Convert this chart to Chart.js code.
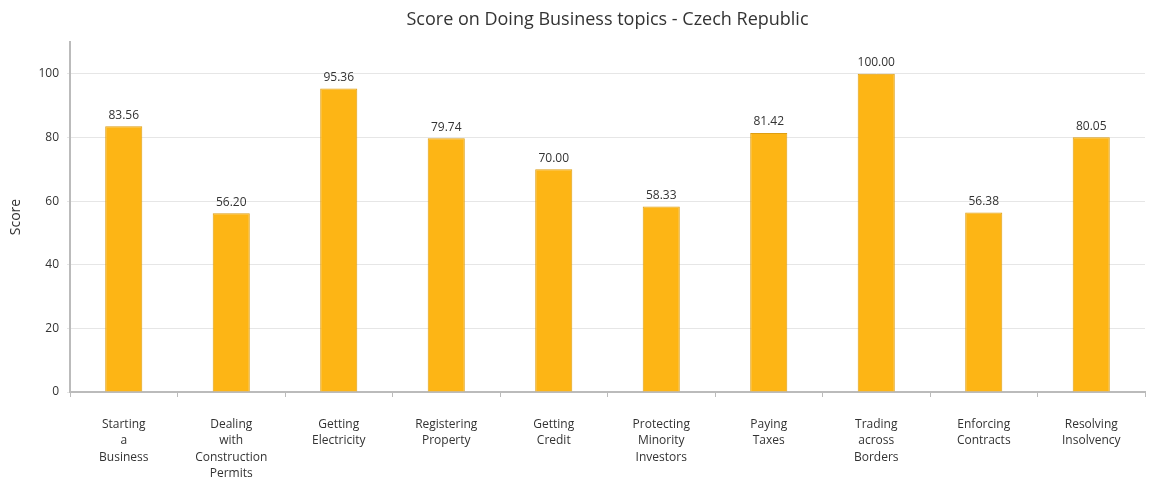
<!DOCTYPE html>
<html>
<head>
<meta charset="utf-8">
<script src="https://cdn.jsdelivr.net/npm/chart.js@4/dist/chart.umd.min.js"></script>
<style>
html,body{margin:0;padding:0;background:#fff;}
#wrap{width:1149px;height:479px;position:relative;}
</style>
</head>
<body>
<div id="wrap"><canvas id="c"></canvas></div>
<script>
const categories = [
  ["Starting","a","Business"],
  ["Dealing","with","Construction","Permits"],
  ["Getting","Electricity"],
  ["Registering","Property"],
  ["Getting","Credit"],
  ["Protecting","Minority","Investors"],
  ["Paying","Taxes"],
  ["Trading","across","Borders"],
  ["Enforcing","Contracts"],
  ["Resolving","Insolvency"]
];
const scores = [83.56, 56.20, 95.36, 79.74, 70.00, 58.33, 81.42, 100.00, 56.38, 80.05];
const yTicks = [0, 20, 40, 60, 80, 100];
const titleText = "Score on Doing Business topics - Czech Republic";
const yTitle = "Score";

const FONT = "'Open Sans', 'Noto Sans', sans-serif";

const titlePlugin = {
  id: 'centerTitle',
  afterDraw(chart) {
    const ctx = chart.ctx, a = chart.chartArea;
    ctx.save();
    ctx.font = "18px " + FONT;
    ctx.fillStyle = "#333";
    ctx.textAlign = "center";
    ctx.textBaseline = "middle";
    ctx.fillText(titleText, (a.left + a.right) / 2, 20);
    ctx.restore();
  }
};

const valueLabels = {
  id: 'valueLabels',
  afterDatasetsDraw(chart) {
    const ctx = chart.ctx;
    const meta = chart.getDatasetMeta(0);
    ctx.save();
    ctx.font = "12px " + FONT;
    ctx.fillStyle = "#333";
    ctx.textAlign = "center";
    ctx.textBaseline = "bottom";
    meta.data.forEach((bar, i) => {
      ctx.fillText(scores[i].toFixed(2), bar.x, bar.y - 5);
    });
    ctx.restore();
  }
};

new Chart(document.getElementById('c'), {
  type: 'bar',
  data: {
    labels: categories,
    datasets: [{
      data: scores,
      backgroundColor: '#FDB515',
      borderColor: '#DE9E12',
      borderWidth: 1,
      barPercentage: 0.345,
      categoryPercentage: 1.0
    }]
  },
  options: {
    responsive: true,
    maintainAspectRatio: false,
    animation: false,
    layout: { padding: { top: 42, right: 4, left: 0, bottom: 0 } },
    plugins: {
      legend: { display: false },
      title: { display: false },
      tooltip: { enabled: false }
    },
    scales: {
      x: {
        grid: {
          display: true,
          drawOnChartArea: false,
          drawTicks: true,
          tickLength: 5,
          color: '#bbb',
          offset: true
        },
        border: { display: true, color: '#bbb', width: 2 },
        ticks: {
          color: '#333',
          font: { family: FONT, size: 12, lineHeight: 1.38 },
          padding: 19,
          maxRotation: 0,
          autoSkip: false
        },
        afterFit(scale) { scale.height = 87; }
      },
      y: {
        min: 0,
        max: 110,
        afterBuildTicks(scale) {
          scale.ticks = yTicks.map(v => ({ value: v }));
        },
        grid: {
          color: '#e6e6e6',
          lineWidth: 1,
          drawTicks: true,
          tickLength: 3
        },
        border: { display: true, color: '#bbb', width: 2 },
        ticks: {
          color: '#333',
          font: { family: FONT, size: 12 },
          padding: 8
        },
        title: {
          display: true,
          text: yTitle,
          color: '#333',
          font: { family: FONT, size: 14 },
          padding: { top: 8, bottom: 0 }
        },
        afterFit(scale) { scale.width = 70; }
      }
    }
  },
  plugins: [titlePlugin, valueLabels]
});
</script>
</body>
</html>
